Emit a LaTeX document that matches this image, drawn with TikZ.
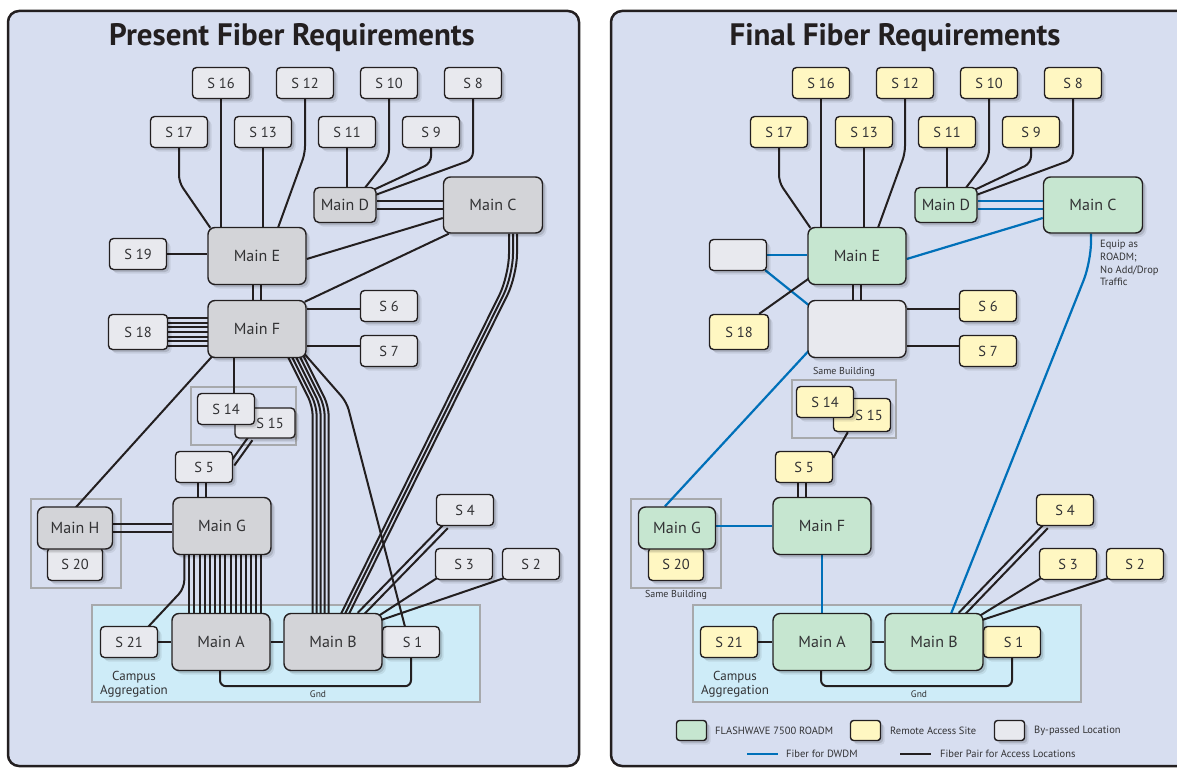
\documentclass[tikz,border=0pt]{standalone}
\usepackage{fontspec}
\setmainfont{PT Sans}
\usetikzlibrary{calc}
\definecolor{panel}{RGB}{215,222,240}
\definecolor{campus}{RGB}{206,236,248}
\definecolor{lnc}{RGB}{35,31,32}
\definecolor{mgrey}{RGB}{211,212,216}
\definecolor{sgrey}{RGB}{232,233,238}
\definecolor{rgreen}{RGB}{198,230,208}
\definecolor{ryellow}{RGB}{255,247,194}
\definecolor{dwdm}{RGB}{0,112,185}
\definecolor{gbox}{RGB}{167,169,172}
\definecolor{txt}{RGB}{50,50,52}
\pgfdeclarelayer{bgl}
\pgfdeclarelayer{conn}
\pgfsetlayers{bgl,conn,main}
\newcommand\slabfont{\fontsize{14.5}{16}\selectfont}
\newcommand\mlabfont{\fontsize{16}{18}\selectfont}
\newcommand\smallfont{\fontsize{10}{12}\selectfont}
\newcommand\legfont{\fontsize{10.5}{12}\selectfont}
\tikzset{
  shd/.style={preaction={fill=black,opacity=0.07,transform canvas={xshift=4pt,yshift=-4pt}},
              preaction={fill=black,opacity=0.12,transform canvas={xshift=2.5pt,yshift=-2.5pt}}},
  box/.style={draw=lnc,line width=1.4pt,inner sep=0pt,text=txt,shd},
  sbox/.style={box,rounded corners=4pt,minimum width=57pt,minimum height=31pt,font=\slabfont},
  mbox/.style={box,rounded corners=7pt,minimum width=98pt,minimum height=57pt,font=\mlabfont},
  ls/.style={sbox,fill=sgrey},
  lm/.style={mbox,fill=mgrey},
  rs/.style={sbox,fill=ryellow},
  rm/.style={mbox,fill=rgreen},
  rb/.style={mbox,fill=sgrey},
  cn/.style={draw=lnc,line width=2pt},
  bl/.style={draw=dwdm,line width=2.2pt},
  grp/.style={draw=gbox,line width=1.2pt},
  lbl/.style={text=txt,inner sep=0pt},
}
\newcommand\twin[4]{%
  \draw[#1] ($(#2)!#4!90:(#3)$) -- ($(#3)!#4!-90:(#2)$);
  \draw[#1] ($(#2)!#4!-90:(#3)$) -- ($(#3)!#4!90:(#2)$);}
\newcommand\commonconn[1]{%
  \draw[cn,rounded corners=7pt] (#1S17.south) -- ++(0,34) -- ($(#1E.north west)+(3,1)$);
  \draw[cn] (#1S16.south) -- (#1S16.south |- #1E.north);
  \draw[cn] (#1S13.south) -- (#1S13.south |- #1E.north);
  \draw[cn,rounded corners=7pt] (#1S12.south) -- ++(0,54) -- ($(#1E.north)+(21,1)$);
  \draw[cn] (#1S11.south) -- (#1S11.south |- #1D.north);
  \draw[cn,rounded corners=7pt] (#1S10.south) -- ++(0,58) -- ($(#1D.north)+(20,1)$);
  \draw[cn,rounded corners=7pt] (#1S9.south) -- ++(0,15) -- ($(#1D.north east)+(-3,3)$);
  \draw[cn,rounded corners=7pt] (#1S8.south) -- ++(0,60) -- ($(#1D.north east)+(-1,8)$);
  \draw[cn] ($(#1F.east)+(0,-20)$) -- ++(56,0);
  \draw[cn] ($(#1F.east)+(0,17)$) -- ++(56,0);
  \twin{cn}{#1E.south}{#1F.north}{4pt}
  \coordinate (#1s5a) at ($(#1S5.south)+(-2,-1)$);
  \coordinate (#1s5b) at ($(#1s5a |- #1G.north)+(0,1)$);
  \twin{cn}{#1s5a}{#1s5b}{4pt}
  \draw[cn] (#1S21.east) -- (#1A.west);
  \draw[cn] (#1A.east) -- (#1B.west);
  \draw[cn,rounded corners=6pt] ($(#1A.south)+(-1,0)$) -- ++(0,15) -| (#1S1.south);
  \coordinate (#1s4a) at ($(#1B.north east)+(-23,2)$);
  \coordinate (#1s4b) at ($(#1S4.south west)+(10,0)$);
  \twin{cn}{#1s4a}{#1s4b}{2.8pt}
  \draw[cn] ($(#1B.north east)+(-4,3)$) -- ($(#1S3.south west)+(2,-2)$);
  \draw[cn] ($(#1B.north east)+(-1,7)$) -- ($(#1S2.south west)+(2,-2)$);
}
\begin{document}
\begin{tikzpicture}[x=1pt,y=-1pt]
\useasboundingbox (0,0) rectangle (1177,768);
% ---------- backgrounds ----------
\begin{pgfonlayer}{bgl}
  \draw[draw=lnc,line width=2.5pt,fill=panel,rounded corners=11pt] (8,11) rectangle (579,766);
  \draw[draw=lnc,line width=2.5pt,fill=panel,rounded corners=11pt] (611,11) rectangle (1200,766);
  \draw[grp,fill=campus] (92,605) rectangle (480,702);
  \draw[grp,fill=campus] (693,605) rectangle (1081,702);
  \draw[grp] (191,387) rectangle (296,445);
  \draw[grp] (31,499) rectangle (121,588);
  \draw[grp] (792,380) rectangle (896,438);
  \draw[grp] (631,499) rectangle (721,588);
\end{pgfonlayer}
% ---------- titles ----------
\node[anchor=base,text=lnc,font=\fontsize{31}{34}\bfseries\selectfont] (tl) at (292,46) {Present Fiber Requirements};
\node[anchor=base,text=lnc,font=\fontsize{31}{34}\bfseries\selectfont] (tr) at (895,46) {Final Fiber Requirements};
% ---------- left panel nodes ----------
\node[ls] (LS16) at (221,83) {S 16};
\node[ls] (LS12) at (305,83) {S 12};
\node[ls] (LS10) at (389,83) {S 10};
\node[ls] (LS8) at (473,83) {S 8};
\node[ls] (LS17) at (179,132) {S 17};
\node[ls] (LS13) at (263,132) {S 13};
\node[ls] (LS11) at (347,132) {S 11};
\node[ls] (LS9) at (431,132) {S 9};
\node[lm,minimum width=62pt,minimum height=35pt,rounded corners=5pt] (LD) at (345,205) {Main D};
\node[lm,minimum width=99pt,minimum height=56pt] (LC) at (493,205) {Main C};
\node[lm] (LE) at (257,256) {Main E};
\node[ls] (LS19) at (138,254) {S 19};
\node[lm] (LF) at (257,329) {Main F};
\node[ls,minimum width=59pt,minimum height=35pt] (LS18) at (138,332) {S 18};
\node[ls] (LS6) at (389,306) {S 6};
\node[ls] (LS7) at (389,351) {S 7};
\node[ls,minimum width=60pt,minimum height=30pt] (LS15) at (265,423) {\hspace*{10pt}S 15};
\node[ls] (LS14) at (226,409) {S 14};
\node[ls] (LS5) at (204,467) {S 5};
\node[lm] (LG) at (222,526) {Main G};
\node[ls,minimum width=55pt,minimum height=33pt] (LS20) at (75,564) {\raisebox{-4pt}{S 20}};
\node[lm,minimum width=75pt,minimum height=42pt] (LH) at (75,528) {Main H};
\node[ls] (LS4) at (465,510) {S 4};
\node[ls] (LS3) at (464,564) {S 3};
\node[ls] (LS2) at (531,564) {S 2};
\node[ls] (LS21) at (129,642) {S 21};
\node[lm] (LA) at (221,642) {Main A};
\node[ls] (LS1) at (411,642) {\hspace*{3pt}S 1};
\node[lm] (LB) at (333,642) {Main B};
\node[lbl,align=center,font=\fontsize{13}{14.5}\selectfont] (Lcamp) at (134,684) {Campus\\Aggregation};
\node[lbl,font=\fontsize{9.5}{11}\selectfont] (Lgnd) at (318,694) {Gnd};
% ---------- right panel nodes ----------
\node[rs] (RS16) at (821,83) {S 16};
\node[rs] (RS12) at (905,83) {S 12};
\node[rs] (RS10) at (989,83) {S 10};
\node[rs] (RS8) at (1073,83) {S 8};
\node[rs] (RS17) at (779,132) {S 17};
\node[rs] (RS13) at (864,132) {S 13};
\node[rs] (RS11) at (947,132) {S 11};
\node[rs] (RS9) at (1031,132) {S 9};
\node[rm,minimum width=62pt,minimum height=35pt,rounded corners=5pt] (RD) at (946,205) {Main D};
\node[rm,minimum width=99pt,minimum height=56pt] (RC) at (1093,205) {Main C};
\node[rm] (RE) at (857,256) {Main E};
\node[sbox,fill=sgrey] (RByp) at (738,255) {};
\node[rb] (RF) at (857,329) {};
\node[rs,minimum width=59pt,minimum height=35pt] (RS18) at (739,332) {S 18};
\node[rs] (RS6) at (988,306) {S 6};
\node[rs] (RS7) at (988,351) {S 7};
\node[rs,minimum width=57pt,minimum height=33pt] (RS15) at (862,415) {\hspace*{14pt}S 15};
\node[rs] (RS14) at (825,402) {S 14};
\node[rs] (RS5) at (804,467) {S 5};
\node[rm] (RG) at (822,526) {Main F};
\node[rs,minimum width=55pt,minimum height=33pt] (RS20) at (676,564) {\raisebox{-4pt}{S 20}};
\node[rm,minimum width=77pt,minimum height=42pt] (RH) at (677,528) {Main G};
\node[rs] (RS4) at (1065,510) {S 4};
\node[rs] (RS3) at (1068,564) {S 3};
\node[rs] (RS2) at (1135,564) {S 2};
\node[rs] (RS21) at (729,642) {S 21};
\node[rm] (RA) at (822,642) {Main A};
\node[rs] (RS1) at (1012,642) {\hspace*{3pt}S 1};
\node[rm] (RB) at (934,642) {Main B};
\node[lbl,align=center,font=\fontsize{13}{14.5}\selectfont] (Rcamp) at (735,684) {Campus\\Aggregation};
\node[lbl,font=\fontsize{9.5}{11}\selectfont] (Rgnd) at (919,694) {Gnd};
\node[lbl,font=\smallfont] (sb1) at (844,372) {Same Building};
\node[lbl,font=\smallfont] (sb2) at (676,595) {Same Building};
\node[lbl,anchor=north west,align=left,font=\fontsize{10.5}{12.7}\selectfont] (equip) at (1100,240) {Equip as\\ROADM;\\No Add/Drop\\Traffic};
% ---------- legend ----------
\node[box,fill=rgreen,rounded corners=3pt,minimum width=30pt,minimum height=20pt] (lg1) at (691.5,730.5) {};
\node[lbl,anchor=west,font=\legfont] (lt1) at (715,731) {FLASHWAVE 7500 ROADM};
\node[box,fill=ryellow,rounded corners=3pt,minimum width=30pt,minimum height=20pt] (lg2) at (865.5,730.5) {};
\node[lbl,anchor=west,font=\legfont] (lt2) at (890,731) {Remote Access Site};
\node[box,fill=sgrey,rounded corners=3pt,minimum width=30pt,minimum height=20pt] (lg3) at (1009.5,730.5) {};
\node[lbl,anchor=west,font=\legfont] (lt3) at (1034,731) {By-passed Location};
\coordinate (lb1) at (747,754); \coordinate (lb2) at (778,754);
\draw[bl,line width=2.8pt] (lb1) -- (lb2);
\node[lbl,anchor=west,font=\legfont] (lt4) at (786,754) {Fiber for DWDM};
\coordinate (lk1) at (900,754); \coordinate (lk2) at (931,754);
\draw[cn,line width=2.8pt] (lk1) -- (lk2);
\node[lbl,anchor=west,font=\legfont] (lt5) at (940,754) {Fiber Pair for Access Locations};
% ---------- connectors ----------
\begin{pgfonlayer}{conn}
  \commonconn{L}
  \commonconn{R}
  % left only
  \draw[cn] (LS19.east) -- (LS19.east -| LE.west);
  \foreach \k in {-3,...,3} \draw[cn] ($(LS18.east)+(0,4.7*\k)$) -- ++(41,0);
  \twin{cn}{LD.east}{LC.west}{4pt}
  \draw[cn] ($(LC.west)+(0,13)$) -- ($(LE.east)+(0,3)$);
  \draw[cn] ($(LC.south west)+(6,0)$) -- ($(LF.north east)+(-2,2)$);
  \foreach \k in {-4,0,4} \draw[cn,rounded corners=22pt] ($(LC.south)+(20+\k,0)$) -- ++(0,42) -- ($(LB.north)+(12+\k,1)$);
  \draw[cn] ($(LF.south)+(-23,0)$) -- ++(0,37);
  \coordinate (ls15a) at ($(LS15.south west)+(16,0)$);
  \coordinate (ls15b) at ($(LS5.east)+(-1,-3)$);
  \twin{cn}{ls15a}{ls15b}{2.6pt}
  \draw[cn] ($(LF.south west)+(5,-2)$) -- ($(LH.north)+(0,2)$);
  \coordinate (lhg) at (LH.east -| LG.west);
  \twin{cn}{LH.east}{lhg}{4pt}
  \foreach \i in {0,...,14} \draw[cn] ($(LG.south west)+(17+5.15*\i,-1)$) -- ++(0,60);
  \draw[cn,rounded corners=8pt] ($(LG.south west)+(12,-1)$) -- ++(0,34) -- ($(LS21.north east)+(-10,1)$);
  \foreach \i in {0,...,4} \draw[cn,rounded corners=10pt] ($(LF.south east)+(-19+4*\i,-2)$) -- ($(LF.south east)+(6+4*\i,48)$) -- ($(LF.south east)+(6+4*\i,258)$);
  \draw[cn,rounded corners=8pt] ($(LF.south east)+(-2,-4)$) -- ($(LF.south east)+(40,44)$) -- ($(LS1.north)+(-6,1)$);
  % right only
  \twin{bl}{RD.east}{RC.west}{4pt}
  \draw[bl] ($(RC.west)+(0,13)$) -- ($(RE.east)+(0,3)$);
  \draw[bl] (RByp.east) -- (RByp.east -| RE.west);
  \draw[bl] ($(RByp.south east)+(-2,-1)$) -- ($(RF.north west)+(1,5)$);
  \draw[cn] ($(RS18.north east)+(-10,0)$) -- ($(RE.south west)+(2,-7)$);
  \draw[bl] ($(RF.south west)+(1,-7)$) -- ($(RH.north)+(-12,0)$);
  \draw[cn] ($(RS15.south west)+(15,0)$) -- ($(RS5.north east)+(0,7)$);
  \draw[bl] (RG.west) -- (RG.west -| RH.east);
  \draw[bl] (RG.south) -- (RG.south |- RA.north);
  \draw[bl,rounded corners=20pt] ($(RC.south)+(-2,0)$) -- ++(0,28) -- ($(RB.north)+(17,1)$);
\end{pgfonlayer}
\end{tikzpicture}
\end{document}
